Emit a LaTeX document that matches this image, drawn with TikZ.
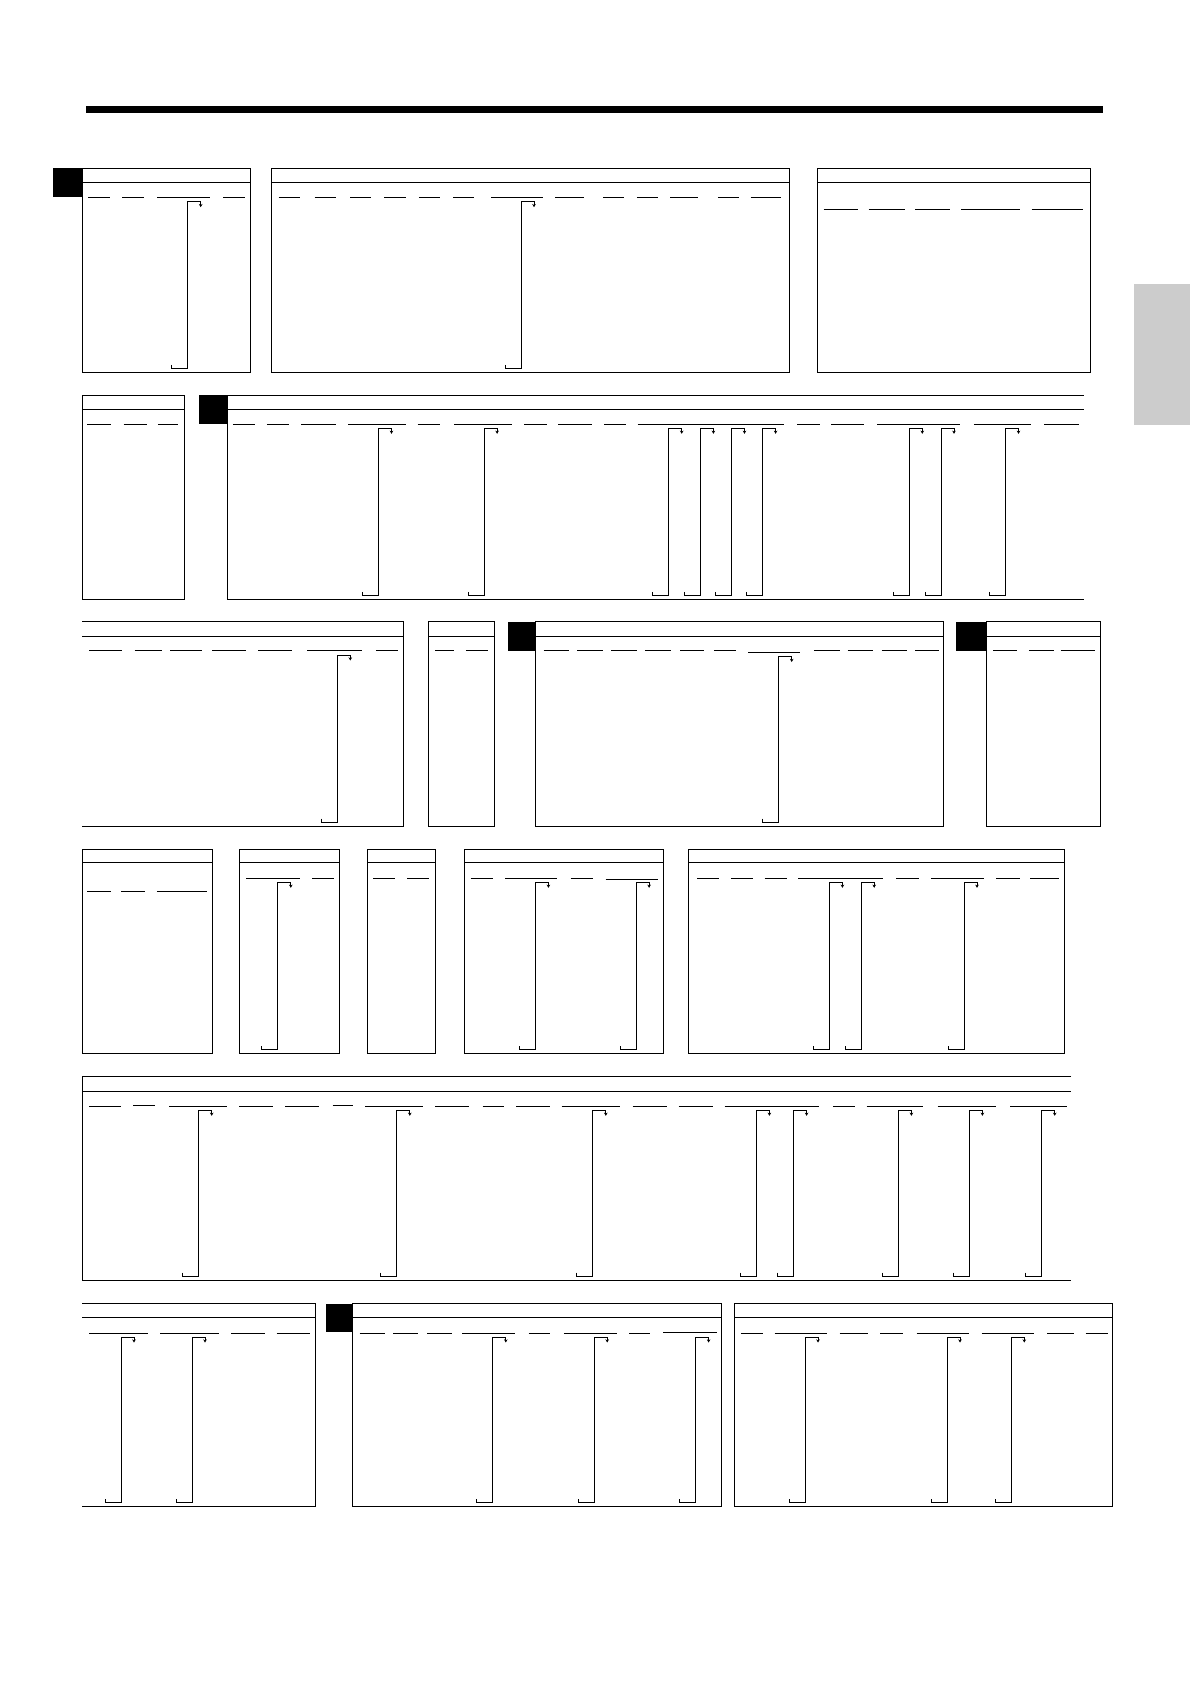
\documentclass[tikz,border=0pt]{standalone}
\usetikzlibrary{arrows.meta}
\tikzset{
  frame/.style={line width=1pt},
  dsh/.style={line width=1pt},
  brk/.style={line width=0.85pt, -{Stealth[length=3.2pt,width=3.6pt]}},
}
% dashes on a line: #1 = y, #2 = list of a/b
\newcommand\mkdash[2]{\foreach \a/\b in {#2} {\draw[dsh] (\a,#1) -- (\b,#1);}}
% brackets: #1 = top y, #2 = bottom y, #3 = list of x
\newcommand\mkbrks[3]{\foreach \x in {#3} {\draw[brk] (\x-16,#2-3.5) -- (\x-16,#2) -- (\x,#2) -- (\x,#1) -- (\x+13,#1) -- (\x+13,#1+5.5);}}
% closed panel: l, r, top, header, bottom
\newcommand\mkpanel[5]{\draw[frame] (#1,#3) rectangle (#2,#5); \draw[frame] (#1,#4) -- (#2,#4);}
% panel open on the left
\newcommand\mkpanelL[5]{\draw[frame] (#1,#3) -- (#2,#3) -- (#2,#5) -- (#1,#5); \draw[frame] (#1,#4) -- (#2,#4);}
% panel open on the right
\newcommand\mkpanelR[5]{\draw[frame] (#2,#3) -- (#1,#3) -- (#1,#5) -- (#2,#5); \draw[frame] (#1,#4) -- (#2,#4);}
\begin{document}
\begin{tikzpicture}[x=1pt,y=-1pt]
\useasboundingbox (0,0) rectangle (1190,1684);
\fill[white] (0,0) rectangle (1190,1684);
% top bar and side tab
\fill[black] (86,106) rectangle (1103,113);
\fill[black!20] (1134,284) rectangle (1190,425);

% ===== Row 1 =====
\fill (53,168.3) rectangle (82.7,196.7);
\mkpanel{82.7}{250.7}{168.3}{182.3}{372.3}
\mkdash{197.3}{88.3/110, 122/144, 157.3/210, 223/245}
\mkbrks{201.7}{368.3}{187.7}
\mkpanel{271.6}{789.3}{168.3}{182.3}{372.3}
\mkdash{197.3}{278.5/299.7, 314.5/335.7, 350/371, 384.4/405.6, 418.8/440, 453.2/474.4, 491.3/543.2, 555.4/584, 603/624, 636.9/658, 670/698.3, 717.8/739, 750.7/781.4}
\mkbrks{201.7}{368.3}{521}
\mkpanel{817.4}{1090}{168.3}{182.3}{372.3}
\mkdash{209}{823.7/858, 868.7/904.7, 915.3/949.7, 961.3/1019.6, 1031.7/1083}

% ===== Row 2 =====
\mkpanel{82.7}{184.5}{395.2}{409.8}{599}
\mkdash{424}{87/110.6, 123.5/147, 157.9/178.3}
\fill (199.4,395.2) rectangle (227.3,424);
\mkpanelR{227.3}{1083.5}{395.2}{409.8}{599}
\mkdash{424}{232.8/255.1, 266.8/288.5, 301.4/335.5, 348.4/405.9, 417.6/439.9, 454/511.5, 524.4/546.7, 558.4/592.4, 604.2/625.9, 637.6/784.3, 797.2/819.5, 831.2/863.5, 877/960.3, 973.8/1030.7, 1044.2/1079.4}
\mkbrks{428.3}{595.3}{378.5, 484.1, 668.7, 700.4, 731.5, 762.6, 909.3, 941, 1005.5}

% ===== Row 3 =====
\mkpanelL{82.4}{403.6}{621.8}{636.5}{826}
\mkdash{650.7}{89.2/121.7, 134.5/161.5, 170.3/202, 212.2/246, 258.2/292, 307/362.3, 375.8/398}
\mkbrks{655}{822}{337.3}
\mkpanel{428.6}{494.8}{621.8}{636.5}{826}
\mkdash{650.7}{435.3/454.3, 465.8/488}
\fill (508.3,621.8) rectangle (535.4,650.5);
\mkpanel{535.4}{943.7}{621.8}{636.5}{826}
\mkdash{650.7}{543.5/569.2, 577.3/603, 611/636.8, 644.9/670.6, 680/704.4, 713.8/736.1, 813.9/839.6, 847.7/873.4, 881.5/907.2, 915.3/939}
\mkdash{652.3}{748.3/800.4}
\mkbrks{656.5}{822}{778.7}
\fill (955.9,621.8) rectangle (986.3,650.5);
\mkpanel{986.3}{1100.8}{621.8}{636.5}{826}
\mkdash{650.7}{993/1016.7, 1028.9/1053.9, 1060.6/1094.5}

% ===== Row 4 =====
\mkpanel{82.5}{212.5}{849.5}{862.8}{1053.6}
\mkdash{891.3}{87.2/110.8, 121/144.6, 156.8/206.8}
\mkpanel{239.3}{339.3}{849.5}{862.8}{1053.6}
\mkdash{878}{246/300, 312.3/334}
\mkbrks{882.3}{1049.6}{277.8}
\mkpanel{367.7}{435.3}{849.5}{862.8}{1053.6}
\mkdash{878}{373.1/394.8, 407/428.6}
\mkpanel{464.4}{663.8}{849.5}{862.8}{1053.6}
\mkdash{878}{470.5/492.8, 505/557, 570.5/592.8}
\mkdash{879.7}{605.7/658.4}
\mkbrks{882.3}{1049.6}{535.4, 636.1}
\mkpanel{688.8}{1064}{849.5}{862.8}{1053.6}
\mkdash{878}{697/719.3, 730.8/753, 764.5/786.8, 798.3/882.8, 896.4/918.7, 930.8/984.2, 996.4/1020, 1030.2/1058.6}
\mkbrks{882.3}{1049.6}{829.4, 861.2, 964}

% ===== Row 5 =====
\mkpanelR{82.4}{1071}{1076}{1091}{1280}
\mkdash{1106}{89.2/121, 169/227, 239.3/273, 285.3/319, 365/423, 435.3/469, 482.6/504.3, 516.4/550.2, 561.7/619.9, 632.7/666.5, 678.7/712.5, 724.7/819.3, 832.8/854.5, 866.6/923.4, 937.6/996.4, 1010/1067.4}
\mkdash{1105}{133.2/154.8, 332.6/352.9}
\mkbrks{1110.3}{1276}{198.7, 396.8, 592.8, 756.4, 793.6, 898.4, 969.4, 1041.7}

% ===== Row 6 =====
\mkpanelL{82.4}{315.7}{1303.8}{1317.8}{1506.8}
\mkdash{1333.3}{89.2/148, 160.2/219, 231.2/265, 276.5/310.3}
\mkbrks{1337}{1502.8}{121, 192}
\fill (325.8,1303.8) rectangle (352.9,1332);
\mkpanel{352.9}{721.3}{1303.8}{1317.8}{1506.8}
\mkdash{1333.3}{359.6/384.6, 393.4/418.4, 427.2/452.2, 462.4/515.1, 528.6/550.2, 563.8/616.5, 629.4/650.3}
\mkdash{1332}{663.2/717.3}
\mkbrks{1337}{1502.8}{492.8, 594.2, 695.6}
\mkpanel{734.1}{1112.7}{1303.8}{1317.8}{1506.8}
\mkdash{1333.3}{740.9/763.2, 774.7/827.4, 839.6/868, 880.1/903.1, 916.6/969.3, 981.5/1033.6, 1047/1074.1, 1085.7/1108}
\mkbrks{1337}{1502.8}{805, 947, 1011.3}
\end{tikzpicture}
\end{document}
